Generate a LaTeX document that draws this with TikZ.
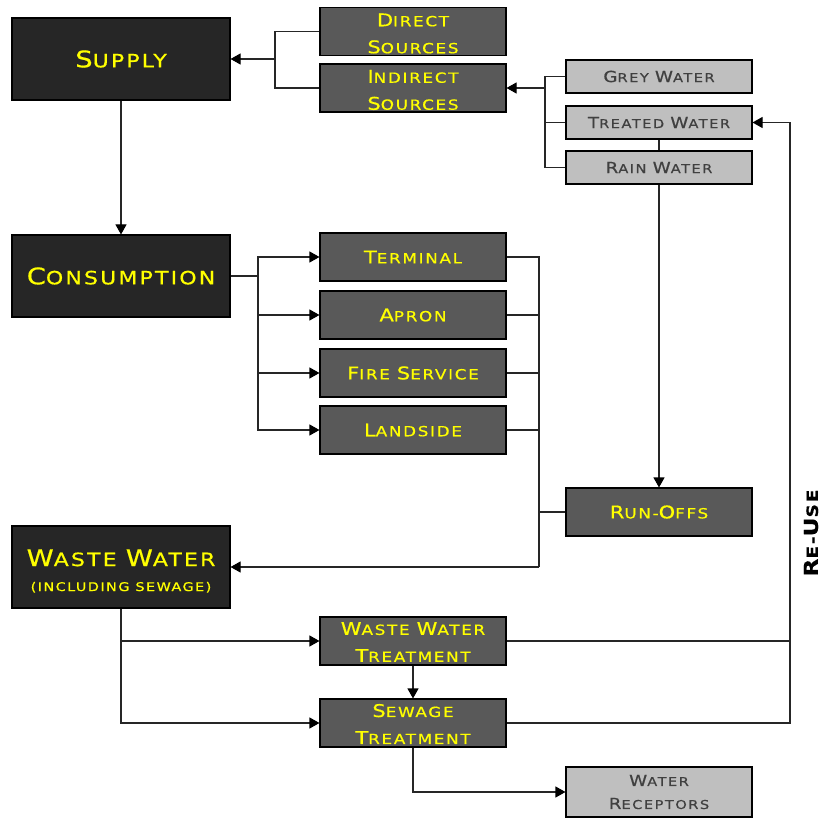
\documentclass[tikz,border=0pt]{standalone}
\usepackage{fontspec}
\setmainfont{DejaVu Sans}[FakeStretch=1.2, LetterSpace=12, FakeBold=0.6]
\usetikzlibrary{arrows.meta}
\definecolor{darkbox}{HTML}{262626}
\definecolor{midbox}{HTML}{595959}
\definecolor{lightbox}{HTML}{BFBFBF}
\definecolor{ylw}{HTML}{FFFF00}
\definecolor{lighttext}{HTML}{404040}
\newcommand\Bg[1]{\scalebox{1.25}{#1}}
\newcommand\Dn[2]{\raisebox{-#1}[\height][\depth]{#2}}
\tikzset{
  box/.style={draw=black, line width=1.1pt, inner sep=0pt, anchor=center, align=center},
  bigbox/.style={box, fill=darkbox, text=ylw, minimum width=218pt, minimum height=82pt,
    font=\fontsize{18.3}{25}\selectfont},
  midnode/.style={box, fill=midbox, text=ylw, minimum width=186pt, minimum height=48pt,
    font=\fontsize{14}{27}\selectfont},
  lightnode/.style={box, fill=lightbox, text=lighttext, minimum width=186pt, minimum height=33pt,
    font=\fontsize{12.2}{23}\selectfont},
  conn/.style={draw=black!85, line width=1.1pt},
  arr/.style={conn, -{Triangle[length=10pt,width=11pt,fill=black,color=black]}},
}
\begin{document}
\begin{tikzpicture}[x=1pt,y=-1pt]
\useasboundingbox (0,0) rectangle (822,818);
% main boxes
\node[bigbox] (supply) at (121,59) {\Bg{S}UPPLY};
\node[bigbox] (consumption) at (121,276) {\Bg{C}ONSUMPTION};
\node[bigbox] (waste) at (121,567) {\Dn{4pt}{\Bg{W}ASTE \Bg{W}ATER}\\\Dn{4pt}{\fontsize{12}{12}\selectfont (INCLUDING SEWAGE)}};
% sources
\node[midnode] (direct) at (413,31.5) {\Dn{2pt}{\Bg{D}IRECT}\\\Dn{2pt}{\Bg{S}OURCES}};
\node[midnode] (indirect) at (413,88) {\Dn{2pt}{\Bg{I}NDIRECT}\\\Dn{2pt}{\Bg{S}OURCES}};
\node[lightnode] (grey) at (659,76.5) {\Bg{G}REY \Bg{W}ATER};
\node[lightnode] (treated) at (659,122.5) {\Bg{T}REATED \Bg{W}ATER};
\node[lightnode] (rain) at (659,167.5) {\Bg{R}AIN \Bg{W}ATER};
% consumers
\node[midnode] (terminal) at (413,257) {\Bg{T}ERMINAL};
\node[midnode] (apron) at (413,315) {\Bg{A}PRON};
\node[midnode] (fire) at (413,373) {\Bg{F}IRE \Bg{S}ERVICE};
\node[midnode] (landside) at (413,430) {\Bg{L}ANDSIDE};
\node[midnode] (runoff) at (659,512) {\Bg{R}UN-\Bg{O}FFS};
% treatment
\node[midnode] (wwt) at (413,641) {\Dn{1pt}{\Bg{W}ASTE \Bg{W}ATER}\\\Dn{1pt}{\Bg{T}REATMENT}};
\node[midnode] (sewage) at (413,723) {\Dn{1pt}{\Bg{S}EWAGE}\\\Dn{1pt}{\Bg{T}REATMENT}};
\node[lightnode, minimum height=50pt] (receptors) at (659,792) {\Bg{W}ATER\\\Bg{R}ECEPTORS};
\node[rotate=90, font=\bfseries\fontsize{15.5}{15.5}\selectfont, text=black] (reuse) at (811,533) {\Bg{R}E-\Bg{U}SE};
% junctions
\coordinate (j1) at (275,59);
\coordinate (j2) at (545,88);
\coordinate (j3) at (258,276);
\coordinate (j4) at (539,567);
\coordinate (j6) at (790,122.5);
% connectors
\draw[conn] (direct.west) -| (j1) |- (indirect.west);
\draw[arr] (j1) -- (supply.east);
\draw[conn] (grey.west) -| (j2) |- (rain.west);
\draw[conn] (treated.west) -- (treated.west -| j2);
\draw[arr] (j2) -- (indirect.east);
\draw[conn] (treated.south) -- (rain.north);
\draw[arr] (rain.south) -- (runoff.north);
\draw[arr] (supply.south) -- (consumption.north);
\draw[conn] (consumption.east) -- (j3);
\draw[arr] (j3) |- (terminal.west);
\draw[arr] (j3) |- (apron.west);
\draw[arr] (j3) |- (fire.west);
\draw[arr] (j3) |- (landside.west);
\draw[conn] (terminal.east) -| (j4);
\draw[conn] (apron.east) -- (apron.east -| j4);
\draw[conn] (fire.east) -- (fire.east -| j4);
\draw[conn] (landside.east) -- (landside.east -| j4);
\draw[conn] (runoff.west) -- (runoff.west -| j4);
\draw[arr] (j4) -- (waste.east);
\draw[arr] (waste.south) |- (wwt.west);
\draw[arr] (waste.south) |- (sewage.west);
\draw[arr] (wwt.south) -- (sewage.north);
\draw[arr] (sewage.south) |- (receptors.west);
\draw[conn] (wwt.east) -| (j6);
\draw[conn] (sewage.east) -| (j6);
\draw[arr] (j6) -- (treated.east);
\end{tikzpicture}
\end{document}
